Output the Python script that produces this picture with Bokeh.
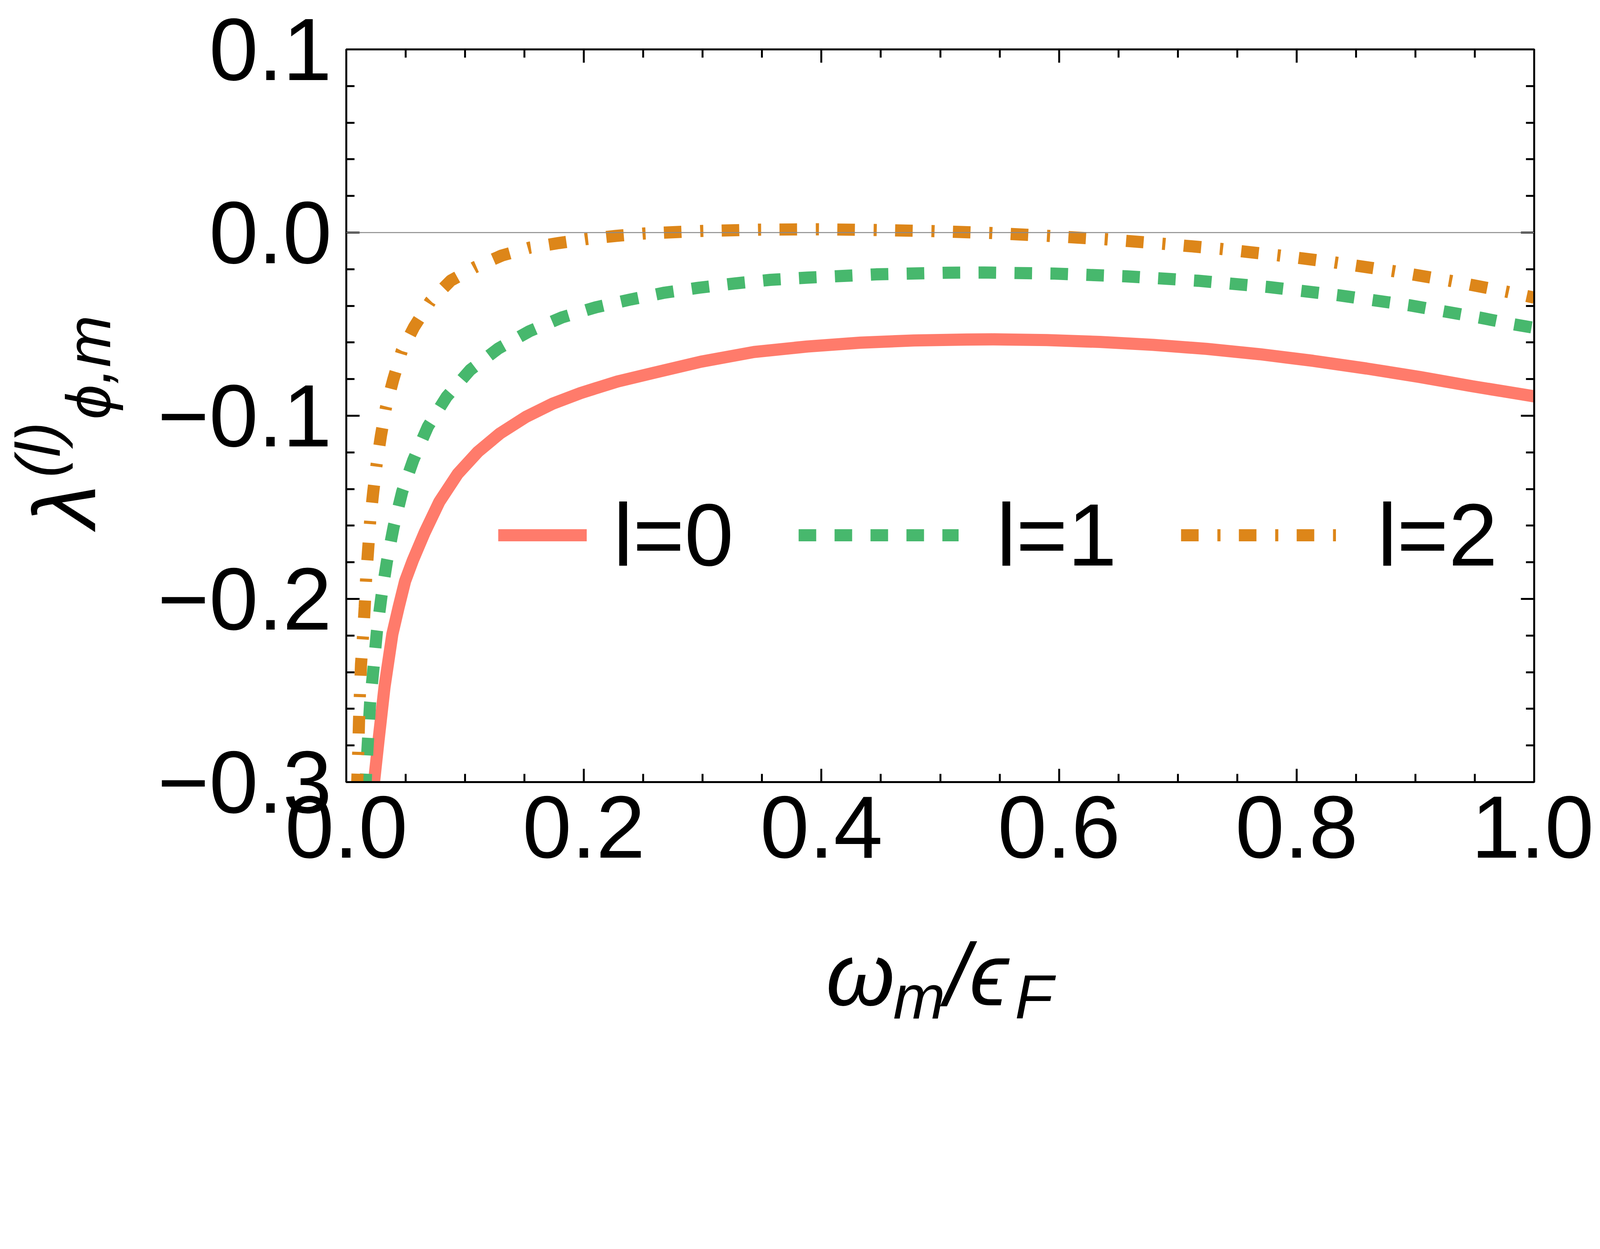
import math
from bokeh.plotting import figure
from bokeh.layouts import row, column
from bokeh.models import (LinearAxis, FixedTicker, CustomJSTickFormatter, Span,
                          Legend, LegendItem, Range1d)
from bokeh.core.properties import value
from bokeh.embed import file_html
from bokeh.resources import INLINE

# ---------------- data ----------------
x_l0 = [0.0217, 0.0234, 0.0272, 0.0322, 0.0388, 0.0440, 0.0495, 0.0560, 0.0660,
        0.0783, 0.0938, 0.1108, 0.1293, 0.1510, 0.1741, 0.1973, 0.2282, 0.2591,
        0.2985, 0.3432, 0.3880, 0.4328, 0.4778, 0.5225, 0.5450, 0.5897, 0.6345,
        0.6794, 0.7242, 0.7690, 0.8137, 0.8587, 0.9034, 0.9480, 1.0000]
y_l0 = [-0.310, -0.2997, -0.2769, -0.248, -0.2192, -0.2047, -0.1903, -0.1790, -0.1637,
        -0.1470, -0.1317, -0.1197, -0.1097, -0.1007, -0.0933, -0.0876, -0.0813, -0.0765,
        -0.0705, -0.0652, -0.0622, -0.0601, -0.0589, -0.0584, -0.0583, -0.0587, -0.0597,
        -0.0613, -0.0635, -0.0664, -0.0700, -0.0742, -0.0788, -0.0839, -0.0894]

x_l1 = [0.0160, 0.0167, 0.0184, 0.0201, 0.0230, 0.0258, 0.0296, 0.0342, 0.0399,
        0.0471, 0.0564, 0.0687, 0.0845, 0.1043, 0.1280, 0.1540, 0.1816, 0.2100,
        0.2395, 0.2680, 0.2970, 0.3280, 0.3570, 0.3880, 0.4460, 0.5070, 0.5370,
        0.5960, 0.6570, 0.7170, 0.7760, 0.8350, 0.8950, 0.9540, 0.9830, 1.0000]
y_l1 = [-0.305, -0.2947, -0.2756, -0.2563, -0.2371, -0.2176, -0.1986, -0.1795, -0.1605,
        -0.1414, -0.1242, -0.1059, -0.0896, -0.0750, -0.0633, -0.0539, -0.0463, -0.0408,
        -0.0365, -0.0328, -0.0301, -0.0277, -0.0258, -0.0246, -0.0228, -0.0219, -0.0218,
        -0.0224, -0.0239, -0.0263, -0.0297, -0.0342, -0.0397, -0.0464, -0.0501, -0.0520]

x_l2 = [0.0090, 0.0093, 0.0101, 0.0107, 0.0115, 0.0124, 0.0141, 0.0155, 0.0167,
        0.0184, 0.0201, 0.0227, 0.0256, 0.0292, 0.0335, 0.0395, 0.0467, 0.0570,
        0.0708, 0.0880, 0.1086, 0.1310, 0.1546, 0.1790, 0.2027, 0.2270, 0.2510,
        0.3000, 0.3490, 0.3970, 0.4450, 0.4940, 0.5420, 0.5910, 0.6400, 0.6870,
        0.7360, 0.7840, 0.8320, 0.8810, 0.9290, 0.9770, 1.0000]
y_l2 = [-0.305, -0.2986, -0.2826, -0.2670, -0.2512, -0.2357, -0.2201, -0.2045, -0.1887,
        -0.1730, -0.1574, -0.1414, -0.1262, -0.1107, -0.0951, -0.0803, -0.0646, -0.0516,
        -0.0375, -0.0262, -0.0188, -0.0125, -0.0082, -0.0057, -0.0035, -0.0018, -0.0005,
        0.0009, 0.0016, 0.0018, 0.0014, 0.0008, -0.0002, -0.0018, -0.0037, -0.0061,
        -0.0089, -0.0124, -0.0163, -0.0210, -0.0263, -0.0323, -0.0355]

series_labels = ["l=0", "l=1", "l=2"]

x_major_ticks = [0.0, 0.2, 0.4, 0.6, 0.8, 1.0]
x_minor_ticks = [0.0, 0.05, 0.1, 0.15, 0.2, 0.25, 0.3, 0.35, 0.4, 0.45, 0.5,
                 0.55, 0.6, 0.65, 0.7, 0.75, 0.8, 0.85, 0.9, 0.95, 1.0]
y_major_ticks = [-0.3, -0.2, -0.1, 0.0, 0.1]
y_minor_ticks = [-0.3, -0.28, -0.26, -0.24, -0.22, -0.2, -0.18, -0.16, -0.14, -0.12,
                 -0.1, -0.08, -0.06, -0.04, -0.02, 0.0, 0.02, 0.04, 0.06, 0.08, 0.1]

# axis-title pieces: (text, baseline anchor in reference px, size role)
x_title_parts = [("ω", 2590, 3142, "main"), ("m", 2800, 3186, "sub"),
                 ("/ϵ", 2962, 3142, "main"), ("F", 3180, 3186, "sub")]
y_title_parts = [("λ", 297, 1660, "main"), ("(l)", 190, 1502, "sub"),
                 ("ϕ,m", 347, 1320, "sub")]

# ---------------- geometry: reference pixels -> page CSS pixels ----------------
S = 4096 / 5000.0          # the page is laid out about 4096 CSS px wide


def s(v):
    return v * S


def fx(ref_x):             # reference px -> x inside the whole layout
    return ref_x * S - 8


def fy(ref_y):
    return ref_y * S - 8


RED = "#FF7B6B"
GREEN = "#47B86D"
ORANGE = "#DD8619"
FONT = "Liberation Sans"
MAIN_FS = round(s(276))
SUB_FS = round(s(195))
TICK_FS = f"{MAIN_FS}px"
LW = s(38)
BASE_FIX = 0.315           # measured shift of the text glyph's alphabetic anchor (in em)

W = 4096 - 16
LEFT_W = 340
MAIN_W = W - LEFT_W
MAIN_H = 2340
BOT_H = 320
H = MAIN_H + BOT_H
F_LEFT, F_RIGHT, F_TOP, F_BOTTOM = 1091, 4803, 164, 2454   # frame in reference px
MB_LEFT = round(fx(F_LEFT) - LEFT_W)
MB_RIGHT = round(W - fx(F_RIGHT))

p = figure(width=MAIN_W, height=MAIN_H, output_backend="svg", toolbar_location=None,
           x_range=Range1d(0, 1), y_range=Range1d(-0.3, 0.1),
           min_border_left=MB_LEFT, min_border_right=MB_RIGHT,
           min_border_top=round(fy(F_TOP)),
           min_border_bottom=round(MAIN_H - fy(F_BOTTOM)),
           x_axis_type=None, y_axis_type=None, align="start")
p.grid.visible = False
p.outline_line_color = "black"
p.outline_line_width = s(6)
p.background_fill_color = "white"
p.border_fill_color = "white"

fmt = CustomJSTickFormatter(code="return tick.toFixed(1).replace('-', '\\u2212');")
blank = CustomJSTickFormatter(code="return '';")


def make_axis(ticks_major, ticks_minor, labels):
    ax = LinearAxis(ticker=FixedTicker(ticks=ticks_major, minor_ticks=ticks_minor),
                    formatter=fmt if labels else blank)
    ax.axis_line_width = s(6)
    ax.axis_line_color = "black"
    ax.major_tick_line_width = s(6)
    ax.minor_tick_line_width = s(6)
    ax.major_tick_line_color = "black"
    ax.minor_tick_line_color = "black"
    ax.major_tick_in = round(s(42))
    ax.major_tick_out = 0
    ax.minor_tick_in = round(s(26))
    ax.minor_tick_out = 0
    ax.major_label_text_font = FONT
    ax.major_label_text_font_size = TICK_FS if labels else "1px"
    ax.major_label_text_color = "black"
    ax.major_label_standoff = round(s(45)) if labels else 0
    return ax


p.add_layout(make_axis(x_major_ticks, x_minor_ticks, True), "below")
p.add_layout(make_axis(y_major_ticks, y_minor_ticks, True), "left")
p.add_layout(make_axis(x_major_ticks, x_minor_ticks, False), "above")
p.add_layout(make_axis(y_major_ticks, y_minor_ticks, False), "right")

dash1 = f"{round(s(55))} {round(s(57))}"
dash2 = f"{round(s(55))} {round(s(58))} {round(s(10))} {round(s(57))}"
r0 = p.line(x_l0, y_l0, line_color=RED, line_width=LW)
r1 = p.line(x_l1, y_l1, line_color=GREEN, line_width=LW, line_dash=dash1)
r2 = p.line(x_l2, y_l2, line_color=ORANGE, line_width=LW, line_dash=dash2)

p.add_layout(Span(location=0.0, dimension="width", line_color="#8a8a8a", line_width=s(3)))

# ---------------- legend: three single-item legends in one row ----------------
LEG_CY = s(F_BOTTOM - 1682)           # centre of the legend row above frame bottom
LAB_H = round(s(330))
legend_specs = [(series_labels[0], r0, 1566, 277, 83),
                (series_labels[1], r1, 2505, 500, 119),
                (series_labels[2], r2, 3700, 485, 130)]
for lab, rend, gx, gw, so in legend_specs:
    lg = Legend(items=[LegendItem(label=lab, renderers=[rend])],
                location=(round(s(gx - F_LEFT)), round(LEG_CY - LAB_H / 2)),
                orientation="horizontal", glyph_width=round(s(gw)), glyph_height=LAB_H,
                label_height=LAB_H, label_standoff=round(s(so)), padding=0, margin=0,
                spacing=0, border_line_color=None, background_fill_alpha=0.0,
                label_text_font=FONT, label_text_font_size=TICK_FS,
                label_text_color="black")
    p.add_layout(lg)


# ---------------- axis titles: text-only figures beside / below the plot ----------------
def text_fig(w, h, x_range, mb_left=0, mb_right=0):
    f = figure(width=w, height=h, output_backend="svg", toolbar_location=None,
               x_range=x_range, y_range=Range1d(0, h),
               min_border_left=mb_left, min_border_right=mb_right,
               min_border_top=0, min_border_bottom=0,
               x_axis_location=None, y_axis_location=None, align="start")
    f.grid.visible = False
    f.outline_line_color = None
    f.background_fill_color = "white"
    f.border_fill_color = "white"
    return f


def put_text(f, parts, x_of, y_of, angle):
    for role, size in (("main", MAIN_FS), ("sub", SUB_FS)):
        sel = [pt for pt in parts if pt[3] == role]
        if not sel:
            continue
        c = BASE_FIX * size
        dx, dy = -math.sin(angle) * c, math.cos(angle) * c
        f.text(x=[x_of(pt[1]) + dx for pt in sel], y=[y_of(pt[2]) + dy for pt in sel],
               text=[pt[0] for pt in sel], angle=angle,
               text_font=value(FONT), text_font_size=value(f"{size}px"),
               text_font_style=value("italic"), text_align=value("left"),
               text_baseline=value("alphabetic"), text_color="black")


# y title: its own narrow figure at the left (x in layout px)
left_fig = text_fig(LEFT_W, H, Range1d(0, LEFT_W))
put_text(left_fig, y_title_parts, lambda rx: fx(rx), lambda ry: H - fy(ry), math.pi / 2)

# x title: figure below the plot whose frame lines up with the plot frame
# (x measured in reference px between the frame edges)
bottom_fig = text_fig(MAIN_W, BOT_H, Range1d(F_LEFT, F_RIGHT), MB_LEFT, MB_RIGHT)
put_text(bottom_fig, x_title_parts, lambda rx: rx,
         lambda ry: BOT_H - (fy(ry) - MAIN_H), 0.0)

layout = row(left_fig, column(p, bottom_fig, spacing=0, align="start"),
             spacing=0, align="start")

open("out.html", "w").write(file_html(layout, INLINE))
